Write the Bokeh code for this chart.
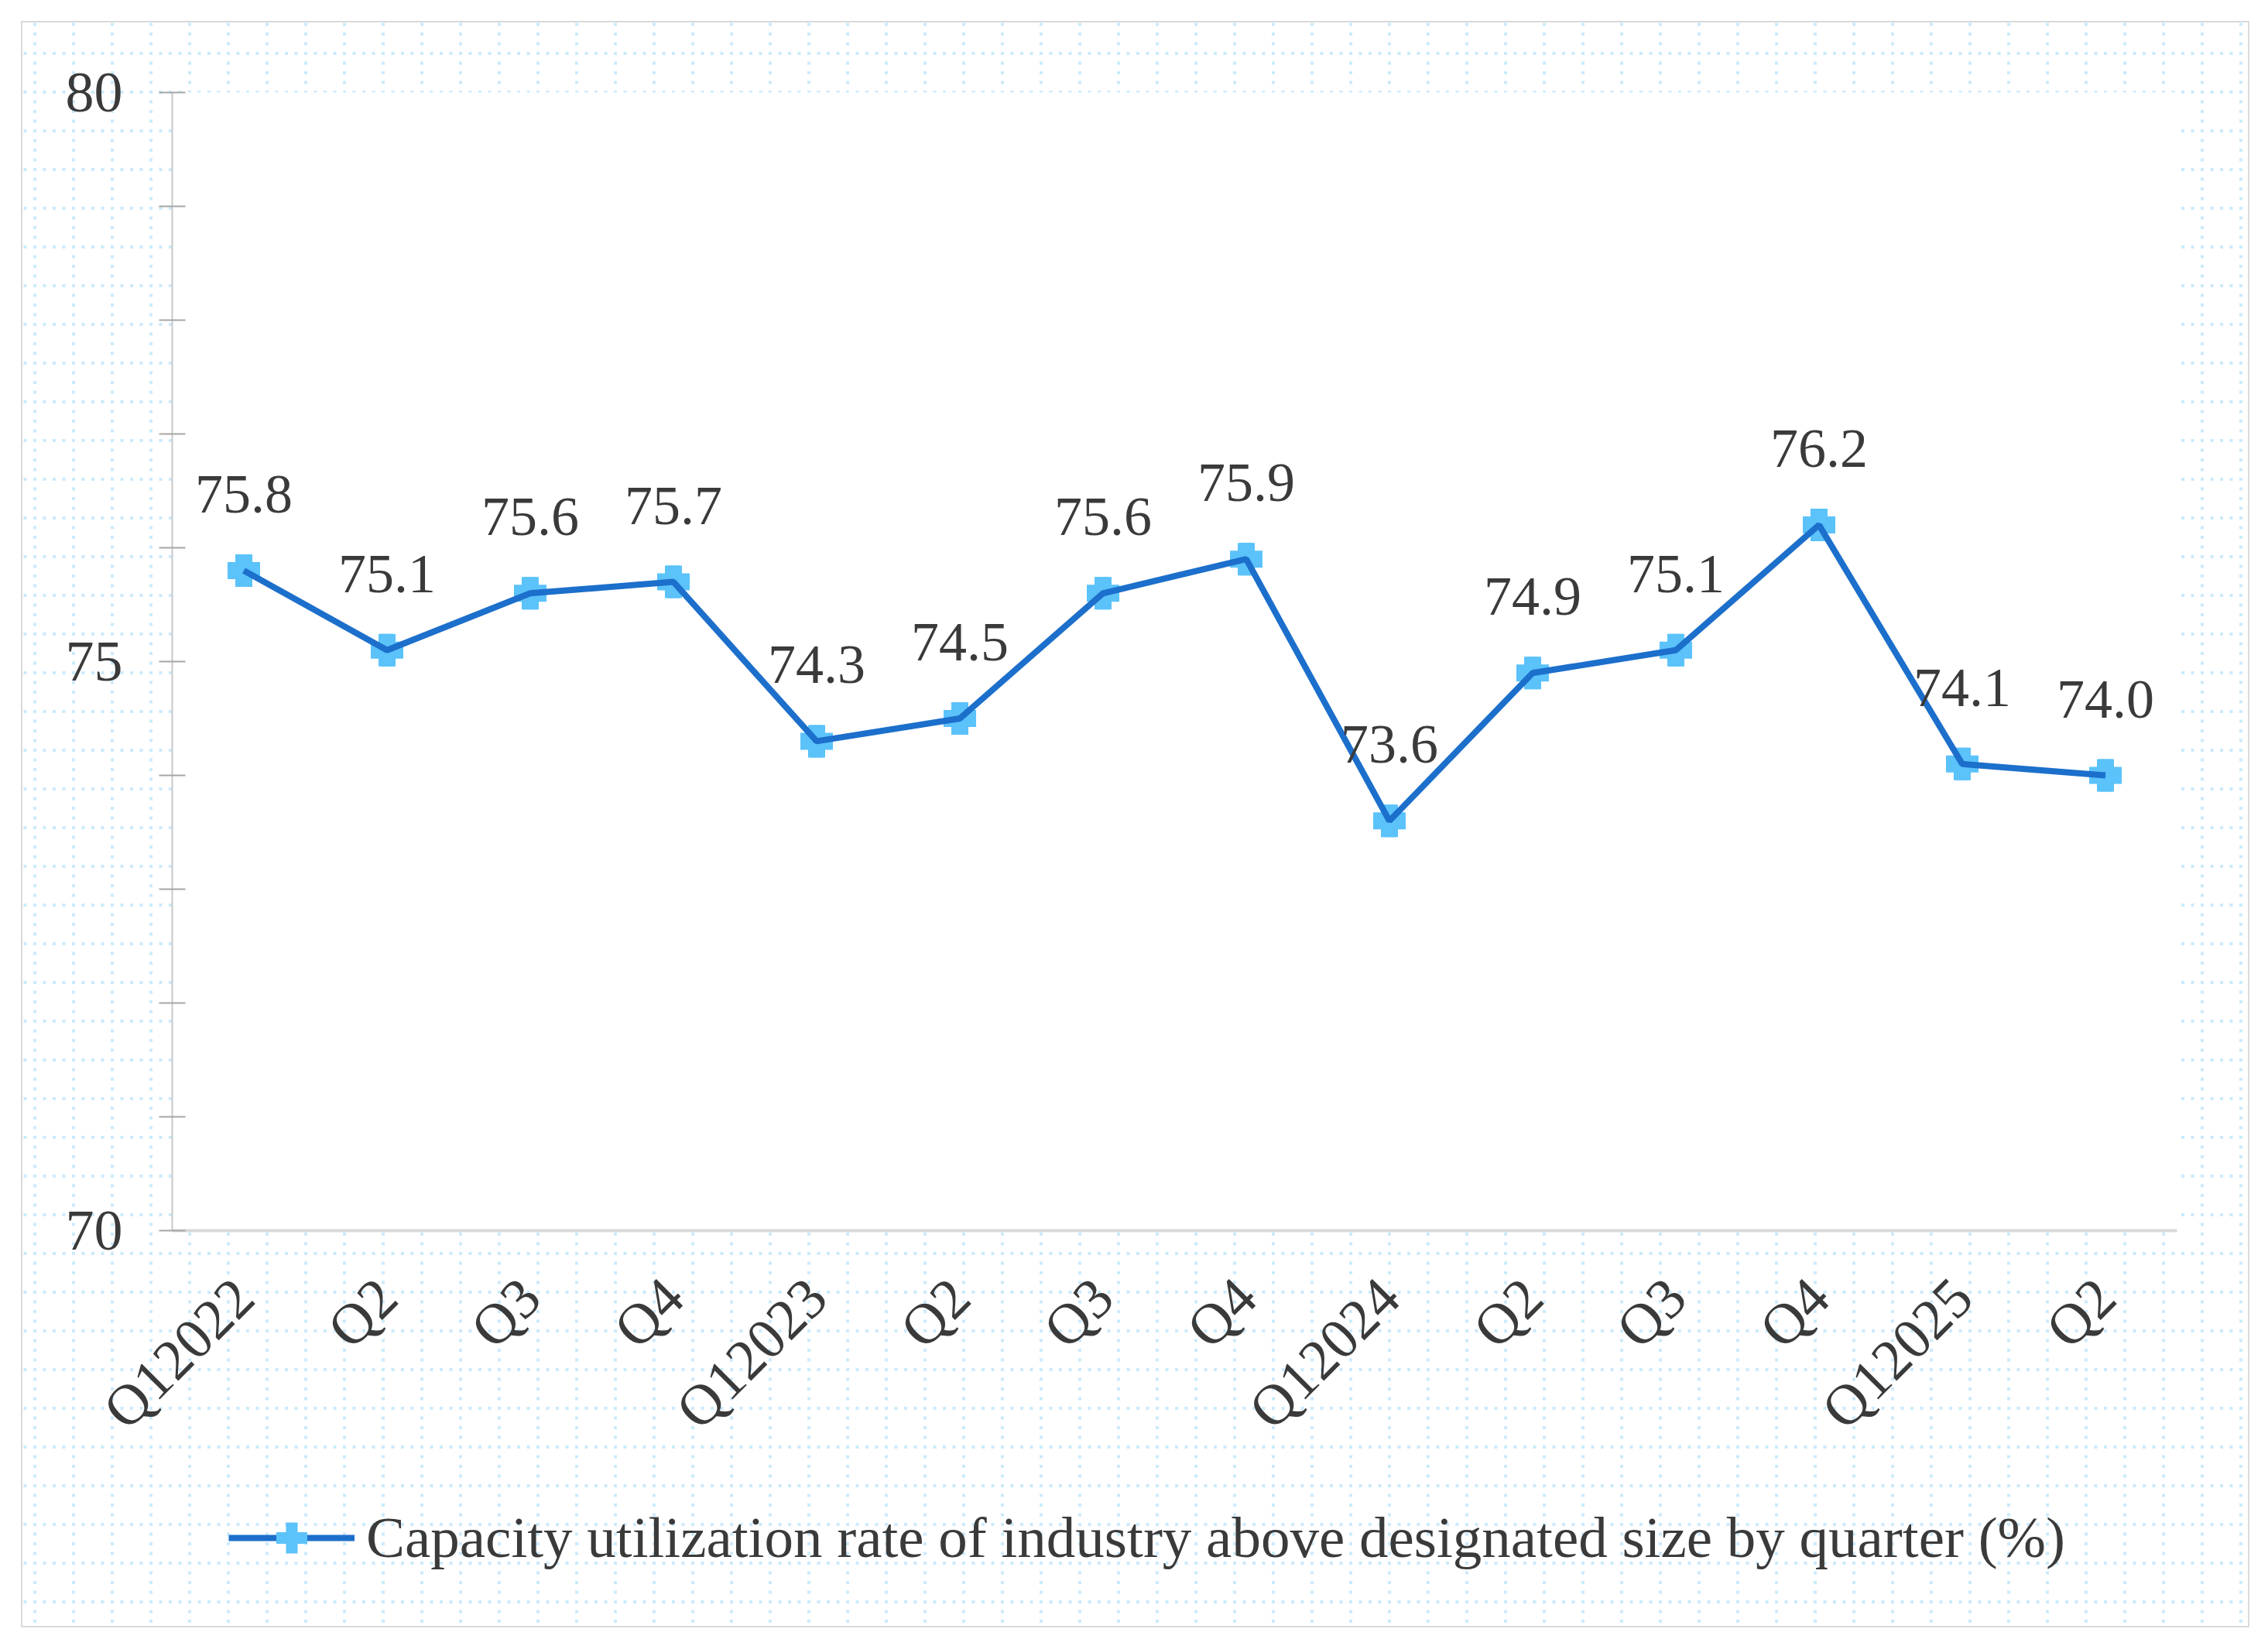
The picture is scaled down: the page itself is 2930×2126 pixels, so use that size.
import math
from urllib.parse import quote

from bokeh.plotting import figure
from bokeh.layouts import column
from bokeh.models import ColumnDataSource, FixedTicker, LabelSet, Legend, LegendItem
from bokeh.embed import file_html
from bokeh.resources import INLINE

# data
quarters = ["Q12022", "Q2", "Q3", "Q4", "Q12023", "Q2", "Q3", "Q4",
            "Q12024", "Q2", "Q3", "Q4", "Q12025", "Q2"]
rates = [75.8, 75.1, 75.6, 75.7, 74.3, 74.5, 75.6, 75.9,
         73.6, 74.9, 75.1, 76.2, 74.1, 74.0]
y_ticks = [70, 71, 72, 73, 74, 75, 76, 77, 78, 79, 80]
y_tick_labels = {70: "70", 75: "75", 80: "80"}
series_name = "Capacity utilization rate of industry above designated size by quarter (%)"

FONT = "Liberation Serif"
TEXT = "#3a3a3a"
LINE = "#1c6fcb"
MARK = "#5bc2fa"
W, H = 2912, 2108
CHART_H = 1925

source = ColumnDataSource(data=dict(
    x=list(range(len(quarters))),
    y=rates,
    label=["%.1f" % r for r in rates],
))

p = figure(width=W, height=CHART_H, output_backend="svg", toolbar_location=None,
           x_range=(-0.5, len(quarters) - 0.5), y_range=(70, 80),
           min_border_left=222, min_border_top=119,
           min_border_right=100, min_border_bottom=CHART_H - 1589)

p.border_fill_color = None
p.background_fill_color = "white"
p.outline_line_color = None
p.xgrid.visible = False
p.ygrid.visible = False

# axes
p.yaxis.ticker = FixedTicker(ticks=y_ticks)
p.yaxis.major_label_overrides = {v: y_tick_labels.get(v, "") for v in y_ticks}
p.yaxis.major_tick_in = 17
p.yaxis.major_tick_out = 17
p.yaxis.minor_tick_line_color = None
p.yaxis.major_tick_line_color = "#a6a6a6"
p.yaxis.major_tick_line_width = 2
p.yaxis.axis_line_color = "#c8c8c8"
p.yaxis.axis_line_width = 2
p.yaxis.major_label_standoff = 47
p.yaxis.major_label_text_font = FONT
p.yaxis.major_label_text_font_size = "74px"
p.yaxis.major_label_text_color = TEXT

p.xaxis.ticker = FixedTicker(ticks=list(range(len(quarters))))
p.xaxis.major_label_overrides = {i: q for i, q in enumerate(quarters)}
p.xaxis.major_label_orientation = math.pi / 4
p.xaxis.major_tick_line_color = None
p.xaxis.minor_tick_line_color = None
p.xaxis.axis_line_color = "#d9d9d9"
p.xaxis.axis_line_width = 4
p.xaxis.major_label_standoff = 68
p.xaxis.major_label_text_font = FONT
p.xaxis.major_label_text_font_size = "74px"
p.xaxis.major_label_text_color = TEXT

# series: markers under the line
p.scatter("x", "y", source=source, marker="plus", size=42,
          fill_color=MARK, line_color=None)
p.rect("x", "y", width=42, height=22, width_units="screen", height_units="screen",
       source=source, fill_color=MARK, line_color=None)
p.rect("x", "y", width=22, height=42, width_units="screen", height_units="screen",
       source=source, fill_color=MARK, line_color=None)
p.line("x", "y", source=source, line_color=LINE, line_width=8)

labels = LabelSet(x="x", y="y", text="label", source=source,
                  y_offset=75, text_align="center", text_baseline="alphabetic",
                  text_font=FONT, text_font_size="72px", text_color=TEXT)
p.add_layout(labels)

# legend strip under the chart (its frame lines up with the chart's frame)
q = figure(width=W, height=H - CHART_H, output_backend="svg", toolbar_location=None,
           x_range=(0, 1), y_range=(0, 1), x_axis_location=None, y_axis_location=None,
           min_border=0)
q.border_fill_color = None
q.background_fill_color = None
q.outline_line_color = None
q.xgrid.visible = False
q.ygrid.visible = False
# key glyphs sit outside the visible range; only their legend swatch shows
key_src = ColumnDataSource(data=dict(x=[-5, -4], y=[-5, -5]))
key_line = q.line("x", "y", source=key_src, line_color=LINE, line_width=8)
key_mark = q.scatter("x", "y", source=key_src, marker="plus", size=42,
                     fill_color=MARK, line_color=None)

legend = Legend(items=[LegendItem(label=series_name, renderers=[key_line, key_mark])],
                location=(73, 72), orientation="horizontal",
                glyph_width=163, glyph_height=100, label_standoff=15,
                padding=0, margin=0, spacing=0,
                border_line_color=None, background_fill_alpha=0,
                label_text_font=FONT, label_text_font_size="75px",
                label_text_color=TEXT)
q.add_layout(legend)

layout = column(p, q, spacing=0)

# dotted blue paper behind the chart, with a thin grey frame
dots = []
for c in (0, 12.5, 25, 37.5, 50):
    dots.append("<rect x='23' y='%s' width='4' height='4'/>" % (c - 2))
    dots.append("<rect x='%s' y='23' width='4' height='4'/>" % (c - 2))
tile = ("<svg xmlns='http://www.w3.org/2000/svg' width='50' height='50'>"
        "<g fill='rgb(204,234,252)'>" + "".join(dots) + "</g></svg>")
layout.styles = {
    "background-color": "white",
    "background-image": 'url("data:image/svg+xml;utf8,%s")' % quote(tile),
    "background-position": "20px 44px",
    "box-shadow": ("inset 10.5px 10.5px 0 16.5px white, "
                   "inset 10.5px 10.5px 0 18.5px rgb(218,218,218)"),
}

open("out.html", "w").write(file_html(layout, INLINE))
